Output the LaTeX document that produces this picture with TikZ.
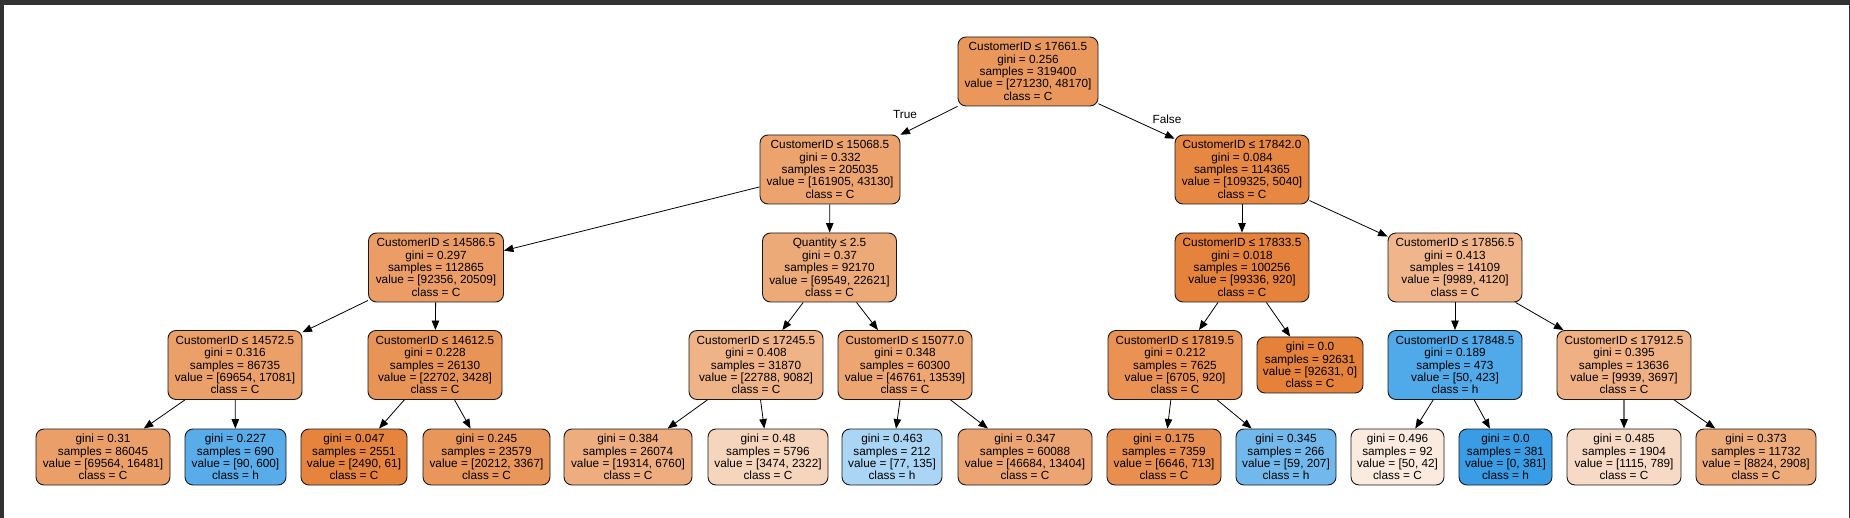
\documentclass[tikz,border=0pt]{standalone}
\usepackage{fontspec}
\setmainfont{Liberation Sans}
\usetikzlibrary{arrows.meta}
\definecolor{corange}{RGB}{229,129,57}
\definecolor{cblue}{RGB}{57,157,229}
\definecolor{framegray}{RGB}{50,50,50}
\tikzset{
  tn/.style={draw=black!90, line width=0.9pt, rounded corners=8pt, align=center,
    font=\fontsize{11.8}{12.4}\selectfont, inner sep=2pt, minimum height=69pt},
  lf/.style={tn, minimum height=56pt},
  edge/.style={line width=0.8pt, -{Triangle[length=9.5pt,width=7.5pt,color=black]}},
  elabel/.style={font=\fontsize{11.8}{12.4}\selectfont, inner sep=0pt}
}
\begin{document}
\begin{tikzpicture}[x=1pt,y=-1pt]
\useasboundingbox (0,0) rectangle (1850,518);
\fill[white] (0,0) rectangle (1850,518);
\fill[framegray] (0,0) rectangle (1850,4.7);
\fill[framegray] (0,0) rectangle (3.5,518);
\fill[framegray] (1848.8,0) rectangle (1850,518);

% level 0
\node[tn, minimum width=140pt, fill=corange!82.2!white] (root) at (1028,71.5)
  {CustomerID ≤ 17661.5\\gini = 0.256\\samples = 319400\\value = [271230, 48170]\\class = C};
% level 1
\node[tn, minimum width=140pt, fill=corange!73.4!white] (A) at (830,169.5)
  {CustomerID ≤ 15068.5\\gini = 0.332\\samples = 205035\\value = [161905, 43130]\\class = C};
\node[tn, minimum width=134pt, fill=corange!95.4!white] (B) at (1242,169.5)
  {CustomerID ≤ 17842.0\\gini = 0.084\\samples = 114365\\value = [109325, 5040]\\class = C};
% level 2
\node[tn, minimum width=135pt, fill=corange!77.8!white] (C) at (436,267.5)
  {CustomerID ≤ 14586.5\\gini = 0.297\\samples = 112865\\value = [92356, 20509]\\class = C};
\node[tn, minimum width=134pt, fill=corange!67.5!white] (D) at (829.5,267.5)
  {Quantity ≤ 2.5\\gini = 0.37\\samples = 92170\\value = [69549, 22621]\\class = C};
\node[tn, minimum width=134pt, fill=corange!99.1!white] (E) at (1242,267.5)
  {CustomerID ≤ 17833.5\\gini = 0.018\\samples = 100256\\value = [99336, 920]\\class = C};
\node[tn, minimum width=134pt, fill=corange!58.8!white] (F) at (1455,267.5)
  {CustomerID ≤ 17856.5\\gini = 0.413\\samples = 14109\\value = [9989, 4120]\\class = C};
% level 3
\node[tn, minimum width=134pt, fill=corange!75.5!white] (G) at (235,365)
  {CustomerID ≤ 14572.5\\gini = 0.316\\samples = 86735\\value = [69654, 17081]\\class = C};
\node[tn, minimum width=134pt, fill=corange!84.9!white] (H) at (435,365)
  {CustomerID ≤ 14612.5\\gini = 0.228\\samples = 26130\\value = [22702, 3428]\\class = C};
\node[tn, minimum width=134pt, fill=corange!60.1!white] (I) at (756,365)
  {CustomerID ≤ 17245.5\\gini = 0.408\\samples = 31870\\value = [22788, 9082]\\class = C};
\node[tn, minimum width=134pt, fill=corange!71.0!white] (J) at (905,365)
  {CustomerID ≤ 15077.0\\gini = 0.348\\samples = 60300\\value = [46761, 13539]\\class = C};
\node[tn, minimum width=134pt, fill=corange!86.3!white] (K) at (1175,365)
  {CustomerID ≤ 17819.5\\gini = 0.212\\samples = 7625\\value = [6705, 920]\\class = C};
\node[lf, minimum width=106pt, fill=corange] (L) at (1310,365)
  {gini = 0.0\\samples = 92631\\value = [92631, 0]\\class = C};
\node[tn, minimum width=134pt, fill=cblue!88.2!white] (M) at (1455,365)
  {CustomerID ≤ 17848.5\\gini = 0.189\\samples = 473\\value = [50, 423]\\class = h};
\node[tn, minimum width=134pt, fill=corange!62.8!white] (N) at (1624,365)
  {CustomerID ≤ 17912.5\\gini = 0.395\\samples = 13636\\value = [9939, 3697]\\class = C};
% level 4 (leaves)
\node[lf, minimum width=134pt, fill=corange!76.3!white] (O) at (103,457)
  {gini = 0.31\\samples = 86045\\value = [69564, 16481]\\class = C};
\node[lf, minimum width=101pt, fill=cblue!85!white] (P) at (235.5,457)
  {gini = 0.227\\samples = 690\\value = [90, 600]\\class = h};
\node[lf, minimum width=106pt, fill=corange!97.6!white] (Q) at (354,457)
  {gini = 0.047\\samples = 2551\\value = [2490, 61]\\class = C};
\node[lf, minimum width=127pt, fill=corange!83.3!white] (R) at (486.5,457)
  {gini = 0.245\\samples = 23579\\value = [20212, 3367]\\class = C};
\node[lf, minimum width=128pt, fill=corange!65.0!white] (S) at (628,457)
  {gini = 0.384\\samples = 26074\\value = [19314, 6760]\\class = C};
\node[lf, minimum width=120pt, fill=corange!33.2!white] (T) at (768,457)
  {gini = 0.48\\samples = 5796\\value = [3474, 2322]\\class = C};
\node[lf, minimum width=100pt, fill=cblue!43.0!white] (U) at (892,457)
  {gini = 0.463\\samples = 212\\value = [77, 135]\\class = h};
\node[lf, minimum width=134pt, fill=corange!71.3!white] (V) at (1025,457)
  {gini = 0.347\\samples = 60088\\value = [46684, 13404]\\class = C};
\node[lf, minimum width=114pt, fill=corange!89.3!white] (W) at (1164,457)
  {gini = 0.175\\samples = 7359\\value = [6646, 713]\\class = C};
\node[lf, minimum width=100pt, fill=cblue!71.5!white] (X) at (1286,457)
  {gini = 0.345\\samples = 266\\value = [59, 207]\\class = h};
\node[lf, minimum width=93pt, fill=corange!16.0!white] (Y) at (1397.5,457)
  {gini = 0.496\\samples = 92\\value = [50, 42]\\class = C};
\node[lf, minimum width=93pt, fill=cblue] (Z) at (1505.5,457)
  {gini = 0.0\\samples = 381\\value = [0, 381]\\class = h};
\node[lf, minimum width=114pt, fill=corange!29.2!white] (AA) at (1624,457)
  {gini = 0.485\\samples = 1904\\value = [1115, 789]\\class = C};
\node[lf, minimum width=120pt, fill=corange!67.0!white] (AB) at (1756,457)
  {gini = 0.373\\samples = 11732\\value = [8824, 2908]\\class = C};

% edge labels
\node[elabel] (ltrue) at (905,115) {True};
\node[elabel] (lfalse) at (1167,119) {False};

% edges
\draw[edge] (root) -- (A);
\draw[edge] (root) -- (B);
\draw[edge] (A) -- (C);
\draw[edge] (A) -- (D);
\draw[edge] (B) -- (E);
\draw[edge] (B) -- (F);
\draw[edge] (C) -- (G);
\draw[edge] (C) -- (H);
\draw[edge] (D) -- (I);
\draw[edge] (D) -- (J);
\draw[edge] (E) -- (K);
\draw[edge] (E) -- (L);
\draw[edge] (F) -- (M);
\draw[edge] (F) -- (N);
\draw[edge] (G) -- (O);
\draw[edge] (G) -- (P);
\draw[edge] (H) -- (Q);
\draw[edge] (H) -- (R);
\draw[edge] (I) -- (S);
\draw[edge] (I) -- (T);
\draw[edge] (J) -- (U);
\draw[edge] (J) -- (V);
\draw[edge] (K) -- (W);
\draw[edge] (K) -- (X);
\draw[edge] (M) -- (Y);
\draw[edge] (M) -- (Z);
\draw[edge, draw=black!55, line width=1.6pt] (N) -- (AA);
\draw[edge] (N) -- (AB);
\end{tikzpicture}
\end{document}
